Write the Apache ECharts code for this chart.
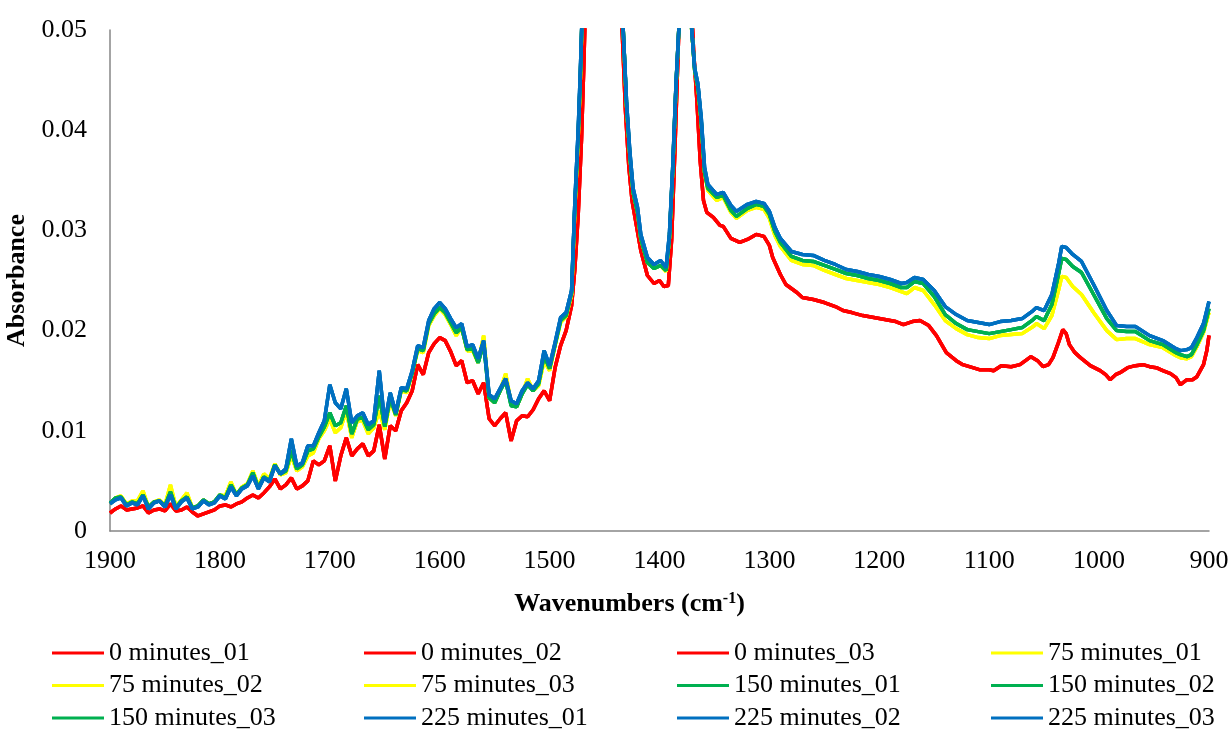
<!DOCTYPE html>
<html>
<head>
<meta charset="utf-8">
<script src="https://cdn.jsdelivr.net/npm/echarts@6.0.0/dist/echarts.min.js"></script>
<style>
  html, body { margin: 0; padding: 0; background: #fff; }
  #myChart { width: 1229px; height: 729px; }
</style>
</head>
<body>
<div id="myChart"></div>
<script>
// [wavenumber, absorbance]
var min0 = [
  [1900,0.0018],[1895,0.0022],[1890,0.0025],[1885,0.0021],[1880,0.0022],[1875,0.0023],[1870,0.0025],[1865,0.0018],
  [1860,0.0021],[1855,0.0022],[1850,0.0020],[1845,0.0027],[1840,0.0020],[1835,0.0021],[1830,0.0024],[1825,0.0019],
  [1820,0.0015],[1815,0.0017],[1810,0.0019],[1805,0.0021],[1800,0.0025],[1795,0.0026],[1790,0.0024],[1785,0.0027],
  [1780,0.0029],[1775,0.0033],[1770,0.0036],[1765,0.0033],[1760,0.0038],[1755,0.0044],[1750,0.0052],[1745,0.0042],
  [1740,0.0046],[1735,0.0053],[1730,0.0042],[1725,0.0045],[1720,0.0050],[1715,0.0070],[1710,0.0066],[1705,0.0070],
  [1700,0.0085],[1695,0.0050],[1690,0.0075],[1685,0.0093],[1680,0.0075],[1675,0.0082],[1670,0.0087],[1665,0.0075],
  [1660,0.0080],[1655,0.0106],[1650,0.0072],[1645,0.0105],[1640,0.0100],[1635,0.0120],[1630,0.0128],[1625,0.0140],
  [1620,0.0166],[1615,0.0156],[1610,0.0178],[1605,0.0187],[1600,0.0193],[1595,0.0190],[1590,0.0179],[1585,0.0165],
  [1580,0.0170],[1575,0.0148],[1570,0.0150],[1565,0.0137],[1560,0.0148],[1555,0.0112],[1550,0.0105],[1545,0.0112],
  [1540,0.0118],[1535,0.0090],[1530,0.0110],[1525,0.0115],[1520,0.0114],[1515,0.0121],[1510,0.0132],[1505,0.0140],
  [1500,0.0130],[1495,0.0163],[1490,0.0185],[1485,0.0200],[1480,0.0225],[1477,0.0262],[1474,0.0315],[1471,0.0390],
  [1469,0.0460],[1467,0.0540],[1460,0.0800],[1445,0.1000],[1437,0.0600],[1434,0.0500],[1431,0.0420],[1428,0.0365],
  [1425,0.0330],[1421,0.0305],[1417,0.0280],[1411,0.0255],[1405,0.0247],[1400,0.0250],[1396,0.0244],[1392,0.0245],
  [1389,0.0290],[1386,0.0380],[1383,0.0480],[1381,0.0550],[1376,0.0700],[1372,0.0550],[1369,0.0480],[1366,0.0430],
  [1363,0.0370],[1360,0.0330],[1357,0.0318],[1351,0.0313],[1345,0.0305],[1342,0.0304],[1335,0.0292],[1327,0.0288],
  [1320,0.0291],[1312,0.0296],[1305,0.0294],[1300,0.0285],[1297,0.0273],[1290,0.0256],[1285,0.0246],[1275,0.0238],
  [1270,0.0233],[1260,0.0231],[1250,0.0228],[1240,0.0224],[1233,0.0220],[1225,0.0218],[1215,0.0215],[1205,0.0213],
  [1195,0.0211],[1185,0.0209],[1178,0.0206],[1170,0.0209],[1163,0.0210],[1155,0.0205],[1148,0.0195],[1139,0.0178],
  [1130,0.0170],[1124,0.0166],[1115,0.0163],[1109,0.0161],[1100,0.0161],[1096,0.0160],[1089,0.0165],[1080,0.0164],
  [1072,0.0166],[1062,0.0174],[1056,0.0170],[1051,0.0164],[1046,0.0166],[1042,0.0173],[1037,0.0188],[1033,0.0201],
  [1030,0.0197],[1027,0.0186],[1022,0.0178],[1017,0.0173],[1008,0.0165],[999,0.0160],[994,0.0156],[990,0.0151],
  [985,0.0156],[981,0.0158],[974,0.0163],[967,0.0165],[960,0.0166],[954,0.0164],[948,0.0163],[942,0.0160],
  [935,0.0157],[930,0.0153],[926,0.0146],[920,0.0151],[915,0.0151],[911,0.0154],[905,0.0166],[902,0.0180],[900,0.0195]
];

var min75 = [
  [1900,0.0027],[1895,0.0033],[1890,0.0035],[1885,0.0027],[1880,0.0030],[1875,0.0030],[1870,0.0040],[1865,0.0024],
  [1860,0.0029],[1855,0.0031],[1850,0.0026],[1845,0.0046],[1840,0.0024],[1835,0.0031],[1830,0.0038],[1825,0.0023],
  [1820,0.0025],[1815,0.0031],[1810,0.0027],[1805,0.0029],[1800,0.0036],[1795,0.0035],[1790,0.0049],[1785,0.0036],
  [1780,0.0044],[1775,0.0047],[1770,0.0060],[1765,0.0045],[1760,0.0057],[1755,0.0052],[1750,0.0067],[1745,0.0056],
  [1740,0.0058],[1735,0.0075],[1730,0.0060],[1725,0.0064],[1720,0.0075],[1715,0.0078],[1710,0.0092],[1705,0.0100],
  [1700,0.0112],[1695,0.0098],[1690,0.0103],[1685,0.0120],[1680,0.0093],[1675,0.0110],[1670,0.0110],[1665,0.0097],
  [1660,0.0103],[1655,0.0120],[1650,0.0101],[1645,0.0130],[1640,0.0115],[1635,0.0140],[1630,0.0138],[1625,0.0158],
  [1620,0.0180],[1615,0.0178],[1610,0.0205],[1605,0.0215],[1600,0.0222],[1595,0.0216],[1590,0.0206],[1585,0.0195],
  [1580,0.0203],[1575,0.0180],[1570,0.0180],[1565,0.0168],[1560,0.0195],[1555,0.0133],[1550,0.0128],[1545,0.0140],
  [1540,0.0157],[1535,0.0128],[1530,0.0124],[1525,0.0137],[1520,0.0152],[1515,0.0140],[1510,0.0145],[1505,0.0170],
  [1500,0.0160],[1495,0.0185],[1490,0.0208],[1485,0.0214],[1480,0.0236],[1477,0.0322],[1474,0.0392],[1472,0.0452],
  [1470,0.0530],[1466,0.0700],[1455,0.1000],[1445,0.1000],[1436,0.0600],[1433,0.0500],[1430,0.0425],[1427,0.0375],
  [1424,0.0338],[1420,0.0318],[1417,0.0292],[1411,0.0268],[1405,0.0262],[1399,0.0265],[1394,0.0259],[1391,0.0292],
  [1388,0.0360],[1385,0.0444],[1382,0.0510],[1378,0.0700],[1375,0.0700],[1372,0.0520],[1368,0.0460],[1365,0.0443],
  [1362,0.0408],[1359,0.0358],[1356,0.0340],[1348,0.0330],[1342,0.0333],[1335,0.0318],[1330,0.0312],[1320,0.0320],
  [1312,0.0323],[1305,0.0321],[1300,0.0312],[1295,0.0295],[1290,0.0284],[1280,0.0270],[1270,0.0266],[1260,0.0265],
  [1250,0.0260],[1240,0.0256],[1230,0.0252],[1220,0.0250],[1210,0.0248],[1200,0.0246],[1190,0.0243],[1180,0.0239],
  [1175,0.0237],[1168,0.0243],[1160,0.0240],[1150,0.0226],[1140,0.0210],[1130,0.0202],[1120,0.0196],[1110,0.0193],
  [1100,0.0192],[1090,0.0195],[1080,0.0196],[1070,0.0197],[1060,0.0204],[1057,0.0207],[1050,0.0202],[1043,0.0215],
  [1037,0.0240],[1034,0.0254],[1030,0.0253],[1024,0.0244],[1016,0.0236],[1005,0.0218],[993,0.0200],[984,0.0191],
  [975,0.0192],[967,0.0192],[954,0.0186],[942,0.0183],[930,0.0175],[926,0.0173],[920,0.0172],[916,0.0174],
  [911,0.0184],[905,0.0198],[900,0.0218]
];

var min150 = [
  [1900,0.0028],[1895,0.0033],[1890,0.0034],[1885,0.0026],[1880,0.0029],[1875,0.0027],[1870,0.0036],[1865,0.0024],
  [1860,0.0029],[1855,0.0030],[1850,0.0025],[1845,0.0039],[1840,0.0023],[1835,0.0030],[1830,0.0034],[1825,0.0023],
  [1820,0.0025],[1815,0.0031],[1810,0.0027],[1805,0.0029],[1800,0.0036],[1795,0.0033],[1790,0.0046],[1785,0.0036],
  [1780,0.0043],[1775,0.0046],[1770,0.0058],[1765,0.0043],[1760,0.0054],[1755,0.0050],[1750,0.0066],[1745,0.0057],
  [1740,0.0060],[1735,0.0080],[1730,0.0062],[1725,0.0066],[1720,0.0080],[1715,0.0082],[1710,0.0094],[1705,0.0104],
  [1700,0.0118],[1695,0.0105],[1690,0.0108],[1685,0.0125],[1680,0.0097],[1675,0.0112],[1670,0.0113],[1665,0.0101],
  [1660,0.0106],[1655,0.0135],[1650,0.0104],[1645,0.0133],[1640,0.0116],[1635,0.0141],[1630,0.0140],[1625,0.0158],
  [1620,0.0182],[1615,0.0180],[1610,0.0207],[1605,0.0217],[1600,0.0223],[1595,0.0218],[1590,0.0208],[1585,0.0198],
  [1580,0.0203],[1575,0.0181],[1570,0.0182],[1565,0.0168],[1560,0.0187],[1555,0.0133],[1550,0.0128],[1545,0.0140],
  [1540,0.0150],[1535,0.0125],[1530,0.0124],[1525,0.0137],[1520,0.0146],[1515,0.0140],[1510,0.0147],[1505,0.0175],
  [1500,0.0162],[1495,0.0186],[1490,0.0210],[1485,0.0215],[1480,0.0238],[1477,0.0325],[1474,0.0395],[1472,0.0455],
  [1470,0.0530],[1466,0.0700],[1455,0.1000],[1445,0.1000],[1436,0.0600],[1433,0.0500],[1430,0.0425],[1427,0.0375],
  [1424,0.0338],[1420,0.0318],[1417,0.0292],[1411,0.0268],[1405,0.0262],[1399,0.0265],[1394,0.0260],[1391,0.0292],
  [1388,0.0360],[1385,0.0444],[1382,0.0510],[1378,0.0700],[1375,0.0700],[1372,0.0520],[1368,0.0460],[1365,0.0443],
  [1362,0.0408],[1359,0.0358],[1356,0.0342],[1348,0.0333],[1342,0.0335],[1335,0.0320],[1330,0.0314],[1320,0.0322],
  [1312,0.0326],[1305,0.0324],[1300,0.0316],[1295,0.0299],[1290,0.0288],[1280,0.0274],[1270,0.0270],[1260,0.0269],
  [1250,0.0265],[1240,0.0261],[1230,0.0257],[1220,0.0255],[1210,0.0252],[1200,0.0250],[1190,0.0247],[1180,0.0243],
  [1175,0.0243],[1168,0.0249],[1160,0.0247],[1150,0.0234],[1140,0.0216],[1130,0.0207],[1120,0.0201],[1110,0.0199],
  [1100,0.0197],[1090,0.0199],[1080,0.0201],[1070,0.0203],[1060,0.0211],[1057,0.0214],[1050,0.0210],[1043,0.0226],
  [1037,0.0256],[1034,0.0272],[1030,0.0271],[1024,0.0264],[1016,0.0258],[1005,0.0236],[993,0.0212],[984,0.0200],
  [975,0.0199],[967,0.0199],[954,0.0190],[942,0.0186],[930,0.0178],[926,0.0176],[920,0.0174],[916,0.0176],
  [911,0.0186],[905,0.0200],[900,0.0222]
];

var min225 = [
  [1900,0.0027],[1895,0.0031],[1890,0.0033],[1885,0.0025],[1880,0.0028],[1875,0.0026],[1870,0.0035],[1865,0.0022],
  [1860,0.0028],[1855,0.0030],[1850,0.0024],[1845,0.0036],[1840,0.0022],[1835,0.0029],[1830,0.0033],[1825,0.0022],
  [1820,0.0024],[1815,0.0030],[1810,0.0026],[1805,0.0028],[1800,0.0035],[1795,0.0032],[1790,0.0044],[1785,0.0035],
  [1780,0.0042],[1775,0.0045],[1770,0.0055],[1765,0.0042],[1760,0.0053],[1755,0.0049],[1750,0.0065],[1745,0.0057],
  [1740,0.0062],[1735,0.0092],[1730,0.0065],[1725,0.0068],[1720,0.0085],[1715,0.0085],[1710,0.0098],[1705,0.0110],
  [1700,0.0146],[1695,0.0128],[1690,0.0122],[1685,0.0142],[1680,0.0108],[1675,0.0115],[1670,0.0118],[1665,0.0106],
  [1660,0.0110],[1655,0.0160],[1650,0.0108],[1645,0.0138],[1640,0.0118],[1635,0.0143],[1630,0.0142],[1625,0.0160],
  [1620,0.0185],[1615,0.0183],[1610,0.0210],[1605,0.0222],[1600,0.0228],[1595,0.0222],[1590,0.0212],[1585,0.0203],
  [1580,0.0207],[1575,0.0184],[1570,0.0186],[1565,0.0172],[1560,0.0190],[1555,0.0136],[1550,0.0132],[1545,0.0142],
  [1540,0.0152],[1535,0.0130],[1530,0.0127],[1525,0.0140],[1520,0.0148],[1515,0.0142],[1510,0.0150],[1505,0.0180],
  [1500,0.0165],[1495,0.0188],[1490,0.0213],[1485,0.0218],[1480,0.0240],[1477,0.0329],[1474,0.0400],[1472,0.0460],
  [1470,0.0530],[1466,0.0700],[1455,0.1000],[1445,0.1000],[1436,0.0600],[1433,0.0500],[1430,0.0429],[1427,0.0379],
  [1424,0.0342],[1420,0.0323],[1417,0.0296],[1411,0.0273],[1405,0.0266],[1399,0.0270],[1394,0.0263],[1391,0.0296],
  [1388,0.0363],[1385,0.0446],[1382,0.0510],[1378,0.0700],[1375,0.0700],[1372,0.0520],[1368,0.0462],[1365,0.0446],
  [1362,0.0412],[1359,0.0363],[1356,0.0346],[1348,0.0336],[1342,0.0338],[1335,0.0325],[1330,0.0319],[1320,0.0326],
  [1312,0.0329],[1305,0.0327],[1300,0.0319],[1295,0.0303],[1290,0.0292],[1280,0.0279],[1270,0.0276],[1260,0.0275],
  [1250,0.0270],[1240,0.0266],[1230,0.0261],[1220,0.0259],[1210,0.0256],[1200,0.0254],[1190,0.0251],[1180,0.0247],
  [1175,0.0248],[1168,0.0253],[1160,0.0251],[1150,0.0240],[1140,0.0224],[1130,0.0216],[1120,0.0210],[1110,0.0208],
  [1100,0.0206],[1090,0.0209],[1080,0.0210],[1070,0.0212],[1060,0.0220],[1057,0.0223],[1050,0.0220],[1043,0.0236],
  [1037,0.0266],[1034,0.0284],[1030,0.0283],[1024,0.0276],[1016,0.0269],[1005,0.0246],[993,0.0220],[984,0.0205],
  [975,0.0204],[967,0.0204],[954,0.0195],[942,0.0190],[930,0.0182],[926,0.0180],[920,0.0181],[916,0.0183],
  [911,0.0193],[905,0.0207],[900,0.0229]
];

var seriesNames = [
  '0 minutes_01', '0 minutes_02', '0 minutes_03',
  '75 minutes_01', '75 minutes_02', '75 minutes_03',
  '150 minutes_01', '150 minutes_02', '150 minutes_03',
  '225 minutes_01', '225 minutes_02', '225 minutes_03'
];
var seriesData = [min0, min0, min0, min75, min75, min75, min150, min150, min150, min225, min225, min225];
var seriesColors = ['#ff0000', '#ff0000', '#ff0000', '#ffff00', '#ffff00', '#ffff00',
                    '#00b050', '#00b050', '#00b050', '#0070c0', '#0070c0', '#0070c0'];

var fontFamily = '"Liberation Serif", "Times New Roman", serif';

var myChart = echarts.init(document.getElementById('myChart'));

var series = seriesNames.map(function (name, i) {
  return {
    name: name,
    type: 'line',
    data: seriesData[i],
    symbol: 'none',
    smooth: false,
    clip: true,
    animation: false,
    lineStyle: { width: 3.5, color: seriesColors[i] },
    itemStyle: { color: seriesColors[i] }
  };
});

// legend: 4 columns, filled row by row
var colLeft = [52, 364, 677, 991];
var legends = colLeft.map(function (left, c) {
  return {
    left: left,
    top: 640,
    height: 120,
    padding: 0,
    orient: 'vertical',
    icon: 'rect',
    itemWidth: 52,
    itemHeight: 3,
    itemGap: 6.5,
    selectedMode: false,
    data: [seriesNames[c], seriesNames[c + 4], seriesNames[c + 8]],
    textStyle: { fontFamily: fontFamily, fontSize: 26, lineHeight: 26, color: '#000' }
  };
});

myChart.setOption({
  backgroundColor: '#fff',
  animation: false,
  grid: {
    left: 110,
    right: 20,
    top: 30,
    bottom: 198,
    containLabel: false,
    outerBoundsMode: 'none'
  },
  legend: legends,
  xAxis: {
    type: 'value',
    inverse: true,
    min: 900,
    max: 1900,
    interval: 100,
    name: '{b|Wavenumbers (cm}{s|-1}{b|)}',
    nameLocation: 'middle',
    nameGap: 60,
    nameTextStyle: {
      padding: [0, 60, 0, 0],
      rich: {
        b: { fontFamily: fontFamily, fontSize: 26, fontWeight: 'bold', color: '#000' },
        s: { fontFamily: fontFamily, fontSize: 16, fontWeight: 'bold', color: '#000', verticalAlign: 'top', padding: [0, 0, 10, 0] }
      }
    },
    axisLine: { show: true, lineStyle: { color: '#868686', width: 1.5 } },
    axisTick: { show: false },
    splitLine: { show: false },
    axisLabel: {
      fontFamily: fontFamily,
      fontSize: 26,
      color: '#000',
      margin: 17,
      formatter: function (v) { return String(v); }
    }
  },
  yAxis: {
    type: 'value',
    min: 0,
    max: 0.05,
    interval: 0.01,
    name: 'Absorbance',
    nameLocation: 'middle',
    nameGap: 71,
    nameTextStyle: { fontFamily: fontFamily, fontSize: 26, fontWeight: 'bold', color: '#000' },
    axisLine: { show: true, lineStyle: { color: '#868686', width: 1.5 } },
    axisTick: { show: false },
    splitLine: { show: false },
    axisLabel: {
      fontFamily: fontFamily,
      fontSize: 26,
      color: '#000',
      margin: 23,
      formatter: function (v) { return v === 0 ? '0' : v.toFixed(2); }
    }
  },
  series: series
});
</script>
</body>
</html>
